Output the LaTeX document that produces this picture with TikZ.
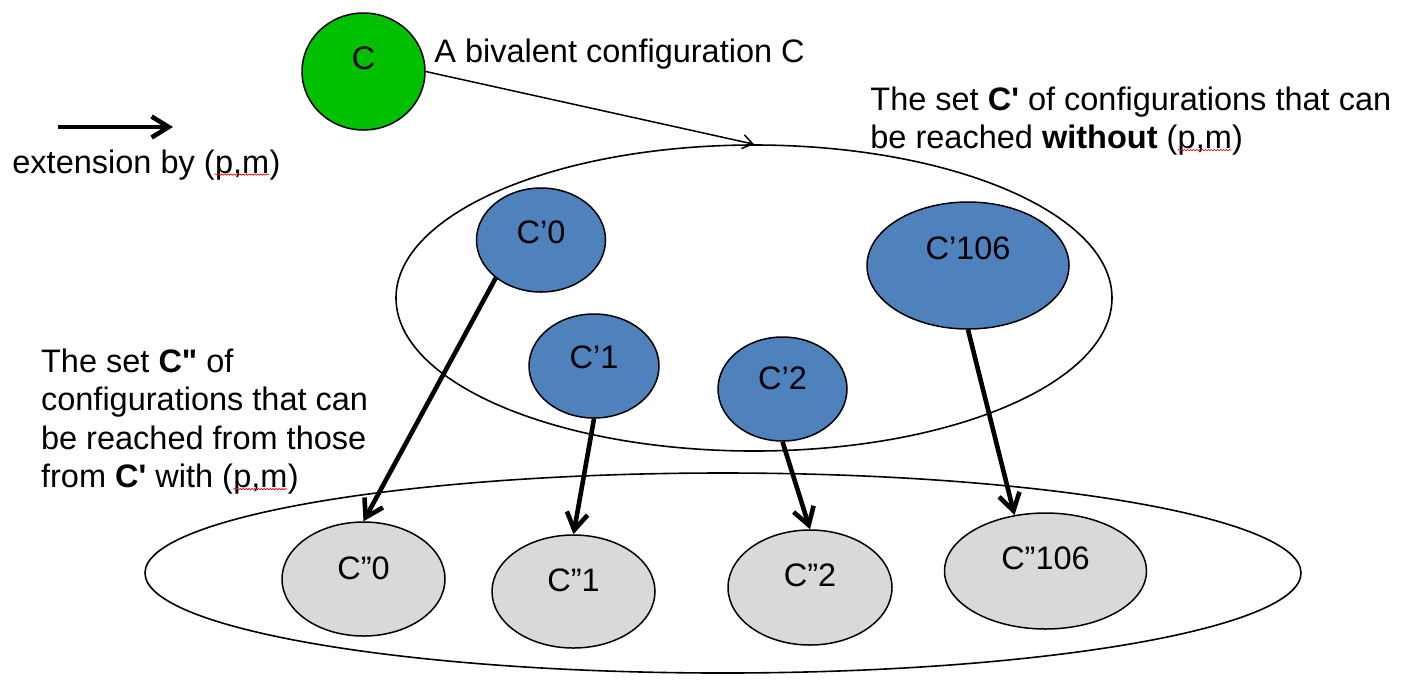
\documentclass[tikz,border=0pt]{standalone}
\usepackage{fontspec}
\setmainfont{Liberation Sans}
\usetikzlibrary{arrows.meta,shapes.geometric,decorations.pathmorphing}
\definecolor{cgreen}{RGB}{0,192,0}
\definecolor{cblue}{RGB}{79,129,189}
\definecolor{cgray}{RGB}{217,217,217}
\newcommand\spellmark[1]{\tikz[baseline=(sm.base)]{\node[inner sep=0pt,outer sep=0pt](sm){#1};\draw[red,line width=0.3pt,decorate,decoration={snake,amplitude=0.35pt,segment length=1.5pt}]([yshift=-0.8pt]sm.base west)--([yshift=-0.8pt]sm.base east);}}
\begin{document}
\begin{tikzpicture}[x=0.5pt,y=-0.5pt,
  font=\fontsize{16.25pt}{19.25pt}\selectfont,
  conf/.style={ellipse,draw=black,line width=0.75pt,inner sep=0pt},
  greennode/.style={conf,fill=cgreen},
  bluenode/.style={conf,fill=cblue},
  graynode/.style={conf,fill=cgray},
  setell/.style={ellipse,draw=black,line width=0.8pt,inner sep=0pt},
  txt/.style={anchor=base west,inner sep=0pt,align=left},
  ext/.style={line width=2.3pt,-{Straight Barb[length=8.5pt,width=10.5pt]}},
  thinarrow/.style={line width=0.75pt,-{Straight Barb[length=5pt,width=7pt]}}]
\useasboundingbox (0,0) rectangle (1413,682);
% sets
\node[setell,minimum width=358pt,minimum height=153pt] (set1) at (754,298) {};
\node[setell,minimum width=578pt,minimum height=100pt] (set2) at (723,573) {};
% configurations
\node[greennode,minimum width=61.5pt,minimum height=58.5pt,label={[yshift=6.75pt]center:C}] (c) at (363.5,71.5) {};
\node[bluenode,minimum width=64.5pt,minimum height=52pt,label={[yshift=4pt]center:C’0}] (c0) at (541,240) {};
\node[bluenode,minimum width=65pt,minimum height=52pt,label={[yshift=4.5pt]center:C’1}] (c1) at (594,366) {};
\node[bluenode,minimum width=64.5pt,minimum height=52pt,label={[yshift=5.5pt]center:C’2}] (c2) at (782.5,389) {};
\node[bluenode,minimum width=101pt,minimum height=63.5pt,label={[yshift=8.75pt]center:C’106}] (c106) at (968,265.5) {};
\node[graynode,minimum width=81.5pt,minimum height=57pt,label={[yshift=5.5pt]center:C”0}] (cc0) at (363.5,579) {};
\node[graynode,minimum width=81.5pt,minimum height=56.5pt,label={[yshift=5.5pt]center:C”1}] (cc1) at (573.5,591.5) {};
\node[graynode,minimum width=82pt,minimum height=57.5pt,label={[yshift=6.25pt]center:C”2}] (cc2) at (810,587.5) {};
\node[graynode,minimum width=101pt,minimum height=58pt,label={[yshift=6.5pt]center:C”106}] (cc106) at (1045.5,571) {};
% texts (base anchor of a multi-line node is the last line's baseline)
\node[txt] (tc) at (434,62) {A bivalent configuration C};
\node[txt] (tset1) at (870,148.5) {The set \textbf{C\textquotesingle} of configurations that can\\be reached \textbf{without} (\spellmark{p,m})};
\node[txt] (tset2) at (40.7,487.5) {The set \textbf{C\textquotedbl} of\\configurations that can\\be reached from those\\from \textbf{C\textquotesingle} with (\spellmark{p,m})};
\node[txt] (tleg) at (12,173) {extension by (\spellmark{p,m})};
% legend arrow
\coordinate (l1) at (58,127);
\coordinate (l2) at (173,127);
\draw[ext] (l1) -- (l2);
% connectors
\draw[thinarrow] (c.east) -- (set1.north);
\draw[ext] (c0.220) -- (cc0.north);
\draw[ext] (c1.south) -- (cc1.north);
\draw[ext] (c2.south) -- (cc2.north);
\draw[ext] (c106.south) -- (cc106.119);
\end{tikzpicture}
\end{document}
